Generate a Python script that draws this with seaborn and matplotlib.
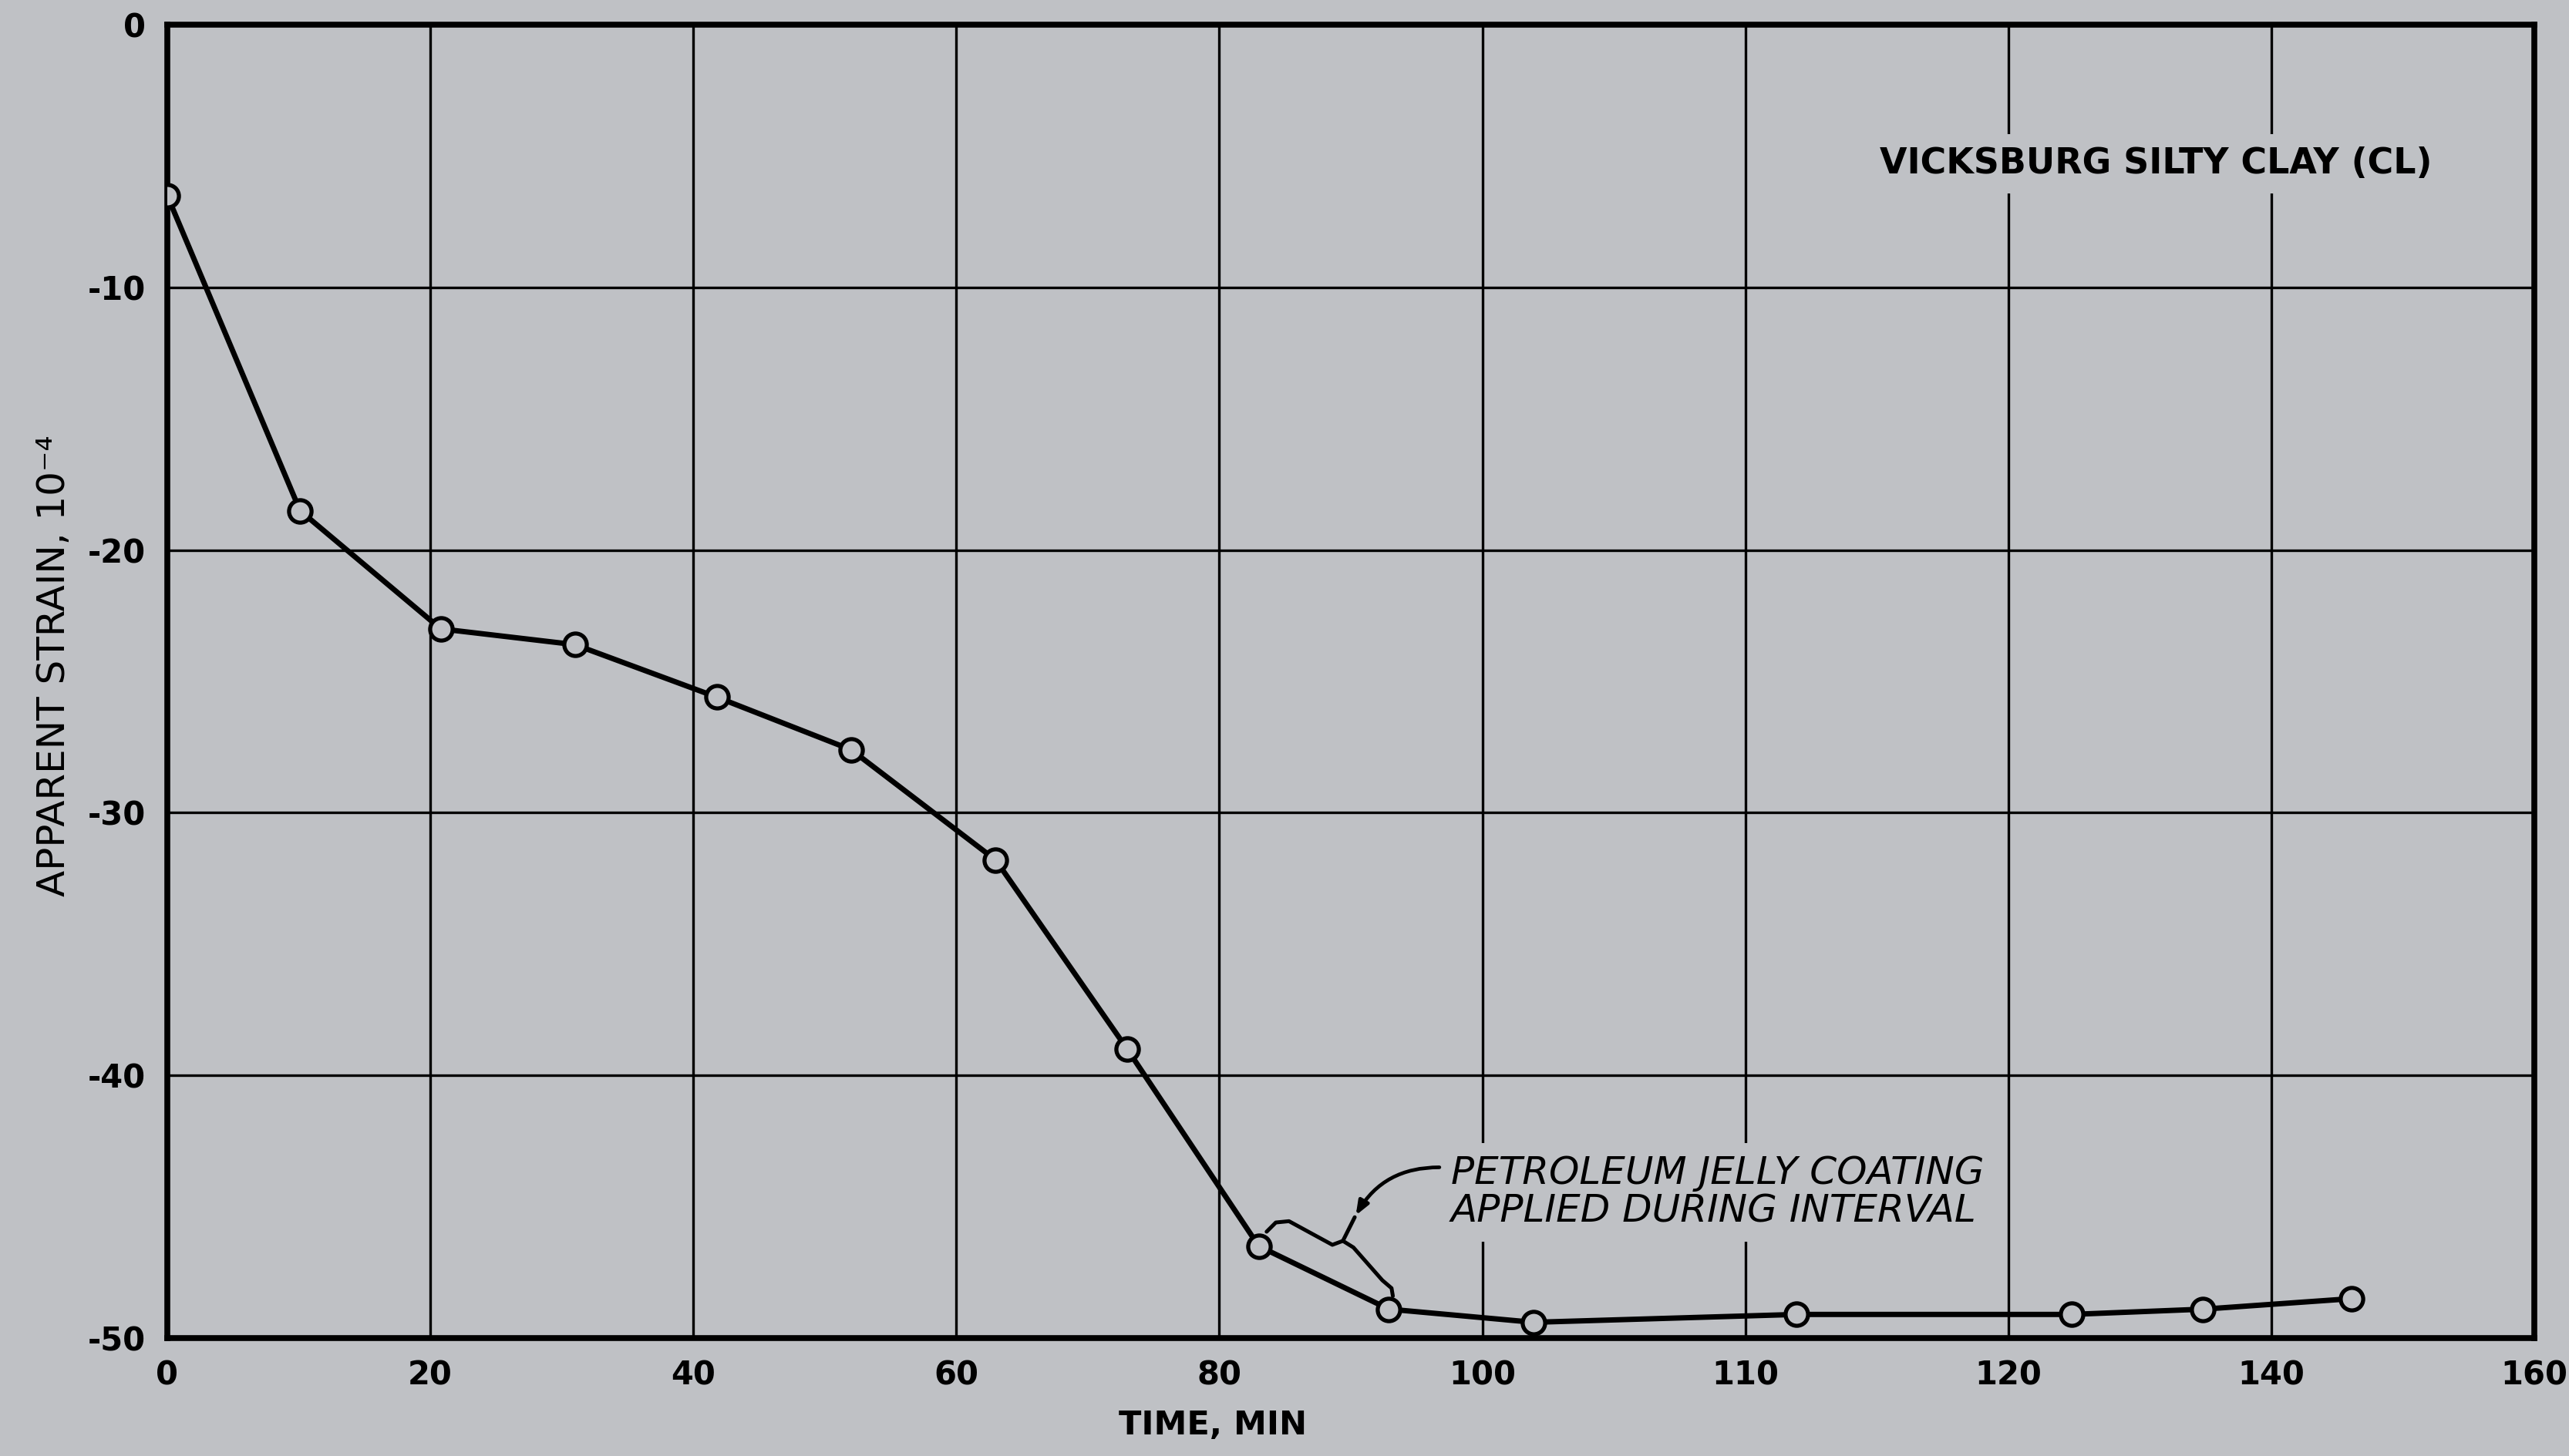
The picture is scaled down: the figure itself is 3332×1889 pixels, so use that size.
import matplotlib
matplotlib.use("Agg")
import matplotlib.pyplot as plt
import seaborn as sns
import pandas as pd

# ---- data ----
time_min = [0, 10.1, 20.8, 31.0, 41.8, 52.0, 63.0, 73.0, 83.0, 92.9, 103.9, 123.9, 144.8, 154.8, 166.1]
strain = [-6.5, -18.5, -23.0, -23.6, -25.6, -27.6, -31.8, -39.0, -46.5, -48.9, -49.4, -49.1, -49.1, -48.9, -48.5]
x_tick_pos = [0, 20, 40, 60, 80, 100, 120, 140, 160, 180]
x_tick_labels = ["0", "20", "40", "60", "80", "100", "110", "120", "140", "160"]
y_ticks = [0, -10, -20, -30, -40, -50]
y_tick_labels = ["0", "-10", "-20", "-30", "-40", "-50"]

bg = "#bfc1c5"
sns.set_theme(style="ticks")
plt.rcParams["font.family"] = ["DejaVu Sans"]
plt.rcParams["text.color"] = "black"
plt.rcParams["axes.labelcolor"] = "black"

fig = plt.figure(figsize=(33.32, 18.89), dpi=100, facecolor=bg)
ax = fig.add_axes([0.0651, 0.081, 0.9214, 0.902])
ax.set_facecolor(bg)

df = pd.DataFrame({"time": time_min, "strain": strain})
sns.lineplot(data=df, x="time", y="strain", ax=ax, color="black", linewidth=5.0,
             marker="o", markersize=21, markerfacecolor=bg, markeredgecolor="black",
             markeredgewidth=3.8, zorder=5)

ax.set_xlim(0, 180)
ax.set_ylim(-50, 0)
ax.set_xticks(x_tick_pos)
ax.set_xticklabels(x_tick_labels)
ax.set_yticks(y_ticks)
ax.set_yticklabels(y_tick_labels)
ax.tick_params(axis="both", length=0, labelsize=30, colors="black")
ax.tick_params(axis="x", pad=20)
ax.tick_params(axis="y", pad=20)
for lab in ax.get_xticklabels() + ax.get_yticklabels():
    lab.set_fontweight("bold")

ax.grid(True, color="black", linewidth=2.4)
ax.set_axisbelow(True)
for s in ax.spines.values():
    s.set_linewidth(5.5)
    s.set_color("black")

ax.set_xlabel("TIME, MIN", fontsize=31, fontweight="bold")
ax.xaxis.set_label_coords(0.4417, -0.054)
ax.set_ylabel("APPARENT STRAIN, 10\u207b\u2074", fontsize=36)
ax.yaxis.set_label_coords(-0.040, 0.512)

# title-like annotation
ax.text(151.2, -5.3, "VICKSBURG SILTY CLAY (CL)", fontsize=33, fontweight="bold",
        ha="center", va="center", zorder=6,
        bbox=dict(boxstyle="square,pad=0.35", facecolor=bg, edgecolor="none"))

# petroleum jelly annotation
ax.text(97.6, -44.45, "PETROLEUM JELLY COATING\nAPPLIED DURING INTERVAL",
        fontsize=36, fontstyle="italic", ha="left", va="center", linespacing=1.05, zorder=6,
        bbox=dict(boxstyle="square,pad=0.3", facecolor=bg, edgecolor="none"))

# brace over the interval
brace_x = [83.6, 84.3, 85.3, 88.6, 89.4, 90.2, 92.4, 93.1, 93.2]
brace_y = [-45.95, -45.6, -45.55, -46.45, -46.3, -46.55, -47.8, -48.1, -48.4]
ax.plot(brace_x, brace_y, color="black", linewidth=3.6, zorder=6, solid_capstyle="round")
ax.plot([89.4, 90.3], [-46.3, -45.4], color="black", linewidth=3.6, zorder=6)
ax.annotate("", xy=(90.3, -45.4), xytext=(96.9, -43.5),
            arrowprops=dict(arrowstyle="-|>,head_length=0.9,head_width=0.35",
                            color="black", linewidth=3.4,
                            connectionstyle="arc3,rad=0.3"), zorder=6)

fig.savefig("out.png", dpi=100, facecolor=bg)
